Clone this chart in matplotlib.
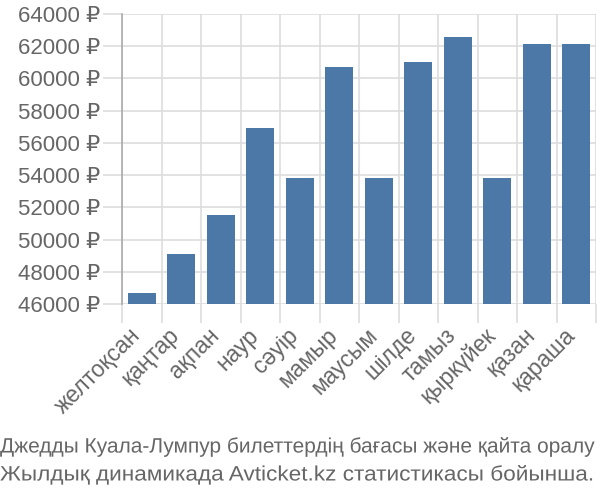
import matplotlib
matplotlib.use("Agg")
import matplotlib.pyplot as plt
import matplotlib.transforms as mtransforms
from matplotlib.patheffects import AbstractPathEffect
import numpy as np

plt.rcParams['font.family'] = ['Liberation Sans', 'DejaVu Sans']

# months and average ticket prices (rubles)
months = ["желтоқсан", "қаңтар", "ақпан", "наур", "сәуір", "мамыр",
          "маусым", "шілде", "тамыз", "қыркүйек", "қазан", "қараша"]
prices = [46700, 49100, 51550, 56900, 53800, 60700,
          53800, 61000, 62600, 53800, 62150, 62150]
y_ticks = [46000, 48000, 50000, 52000, 54000, 56000, 58000, 60000, 62000, 64000]
caption = ["Джедды Куала-Лумпур билеттердің бағасы және қайта оралу",
           "Жылдық динамикада Avticket.kz статистикасы бойынша."]

text_col = '#666666'
grid_col = '#dddddd'


class StretchX(AbstractPathEffect):
    '''Stretch text horizontally (caption lines are fitted to width).'''
    def __init__(self, sx, x0=0.0):
        super().__init__()
        self.sx = sx
        self.x0 = x0

    def draw_path(self, renderer, gc, tpath, affine, rgbFace=None):
        t = mtransforms.Affine2D().translate(-self.x0, 0).scale(self.sx, 1).translate(self.x0, 0)
        renderer.draw_path(gc, tpath, affine + t, rgbFace)


fig = plt.figure(figsize=(6, 5), dpi=100)
ax = fig.add_axes([122/600, 1-304/500, 474/600, 290/500])

x = np.arange(len(months))
ax.bar(x, [p - y_ticks[0] for p in prices], bottom=y_ticks[0],
       width=0.71, color='#4c78a8', zorder=3)

ax.set_xlim(-0.5, len(months) - 0.5)
ax.set_ylim(y_ticks[0], y_ticks[-1])

# category ticks (labels only) + band edges (grid lines)
ax.set_xticks(x)
ax.set_xticklabels(months, rotation=45, ha='right', va='top',
                   fontsize=16.5, color=text_col)
ax.tick_params(axis='x', which='major', length=0, pad=14)
shift = mtransforms.ScaledTranslation(3/100, 0, fig.dpi_scale_trans)
for lab in ax.get_xticklabels():
    lab.set_transform(lab.get_transform() + shift)
ax.set_xticks(np.arange(-0.5, len(months)), minor=True)
ax.tick_params(axis='x', which='minor', length=14, width=1.2, color=grid_col)
ax.grid(axis='x', which='minor', color=grid_col, linewidth=1.2, zorder=0)

ax.set_yticks(y_ticks)
ax.set_yticklabels([f"{v} ₽" for v in y_ticks], fontsize=16, color=text_col)
ax.tick_params(axis='y', length=14, width=1.2, color=grid_col, pad=1.5)
ax.grid(axis='y', color=grid_col, linewidth=1.2, zorder=0)

for s in ['top', 'right', 'bottom']:
    ax.spines[s].set_visible(False)
ax.spines['left'].set_color('#aaaaaa')
ax.spines['left'].set_linewidth(1.2)

cap_texts = []
for line, yc in zip(caption, [447, 475]):
    cap_texts.append(fig.text(0.0, 1-yc/500, line, fontsize=15, color=text_col,
                              ha='left', va='center'))

# stretch each caption line to the figure width (never shrink)
fig.canvas.draw()
renderer = fig.canvas.get_renderer()
for t in cap_texts:
    w = t.get_window_extent(renderer).width
    t.set_path_effects([StretchX(max(1.0, 597 / w), 0.0)])

fig.savefig("out.png", dpi=100)
